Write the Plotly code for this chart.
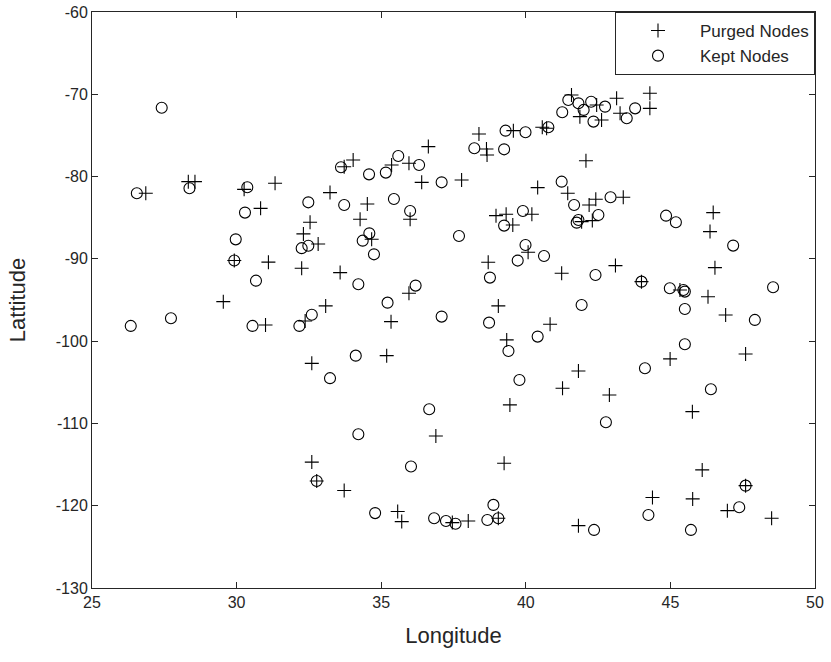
import plotly.graph_objects as go

purged_lon = [26.86, 28.33, 28.56, 30.26, 31.33, 33.23, 30.83, 32.54, 32.31, 32.82,
              29.92, 31.10, 32.25, 29.54, 33.08, 31.00, 32.37, 32.60, 32.60, 32.77,
              33.72, 33.72, 34.03, 35.36, 35.96, 36.63, 36.40, 37.78, 34.52, 34.27,
              36.00, 34.67, 33.58, 35.96, 35.34, 35.19, 36.89, 35.57, 35.71, 37.46,
              38.01, 39.05, 39.25, 39.45, 39.34, 39.05, 40.84, 41.27, 38.70, 40.08,
              41.24, 38.97, 39.32, 39.55, 40.21, 40.41, 41.45, 38.38, 38.64, 38.66,
              39.57, 40.57, 40.72, 41.58, 42.45, 41.87, 42.62, 43.14, 43.26, 44.29,
              44.29, 42.08, 42.42, 42.19, 43.37, 41.93, 42.30, 46.48, 46.37, 43.10,
              46.54, 44.00, 45.33, 46.30, 46.91, 47.60, 44.99, 41.82, 42.89, 45.76,
              46.10, 47.60, 44.38, 45.77, 46.97, 48.50, 41.82]
purged_lat = [-82.03, -80.62, -80.62, -81.55, -80.82, -81.95, -83.86, -85.55, -86.97, -88.19,
              -90.20, -90.40, -91.14, -95.20, -95.72, -98.03, -97.55, -102.70, -114.70, -116.99,
              -118.16, -78.80, -77.98, -78.59, -78.39, -76.36, -80.70, -80.41, -83.33, -85.19,
              -85.19, -87.62, -91.67, -94.18, -97.63, -101.76, -111.52, -120.70, -121.93, -122.05,
              -121.85, -121.52, -114.84, -107.75, -99.85, -95.72, -97.95, -105.73, -90.42, -89.20,
              -91.75, -84.75, -84.58, -85.88, -84.58, -81.34, -82.03, -74.82, -76.65, -77.38,
              -74.42, -74.00, -74.13, -70.09, -71.30, -72.72, -73.12, -70.49, -72.31, -69.88,
              -71.71, -78.07, -82.76, -83.45, -82.52, -85.48, -85.35, -84.38, -86.69, -90.82,
              -91.07, -92.77, -93.78, -94.60, -96.82, -101.56, -102.16, -103.62, -106.54, -108.57,
              -115.65, -117.56, -119.01, -119.17, -120.60, -121.52, -122.42]

kept_lon = [27.41, 26.55, 28.37, 30.37, 32.48, 30.29, 29.97, 32.25, 32.48, 29.92,
            30.67, 26.34, 27.73, 30.55, 32.17, 32.60, 33.23, 32.77, 33.61, 34.58,
            35.16, 35.59, 36.31, 37.09, 33.72, 35.44, 36.00, 34.59, 34.36, 34.75,
            37.69, 34.21, 36.19, 35.22, 37.09, 38.73, 40.41, 39.40, 34.12, 39.78,
            36.66, 34.21, 36.03, 34.79, 36.83, 37.24, 37.57, 38.67, 38.88, 39.05,
            38.22, 39.25, 39.30, 39.99, 40.78, 41.26, 41.47, 41.82, 42.26, 42.74,
            42.34, 43.49, 43.78, 42.00, 41.24, 41.67, 42.93, 41.82, 41.76, 42.51,
            39.90, 39.25, 39.99, 39.72, 40.63, 38.76, 44.85, 45.19, 47.17, 42.41,
            44.00, 44.98, 45.45, 45.50, 48.55, 41.93, 45.50, 47.92, 45.50, 44.12,
            46.40, 42.77, 47.60, 44.24, 47.38, 42.36, 45.71]
kept_lat = [-71.63, -82.03, -81.42, -81.30, -83.13, -84.38, -87.63, -88.70, -88.40, -90.20,
            -92.65, -98.15, -97.22, -98.15, -98.15, -96.80, -104.50, -116.99, -78.87, -79.73,
            -79.52, -77.50, -78.59, -80.70, -83.45, -82.72, -84.18, -86.90, -87.79, -89.45,
            -87.22, -93.09, -93.25, -95.32, -97.02, -97.75, -99.45, -101.19, -101.76, -104.72,
            -108.28, -111.32, -115.24, -120.90, -121.52, -121.85, -122.20, -121.73, -119.90, -121.52,
            -76.56, -76.69, -74.42, -74.62, -74.00, -72.19, -70.69, -71.10, -70.90, -71.50,
            -73.32, -72.92, -71.71, -71.90, -80.62, -83.45, -82.52, -85.27, -85.60, -84.67,
            -84.18, -85.96, -88.31, -90.21, -89.65, -92.28, -84.75, -85.55, -88.39, -91.96,
            -92.77, -93.58, -93.78, -93.98, -93.45, -95.60, -96.09, -97.42, -100.38, -103.30,
            -105.85, -109.86, -117.56, -121.12, -120.19, -122.94, -122.94]

x_ticks = [25, 30, 35, 40, 45, 50]
y_ticks = [-130, -120, -110, -100, -90, -80, -70, -60]

fig = go.Figure()
fig.add_trace(go.Scatter(
    x=purged_lon, y=purged_lat, mode="markers", name="Purged Nodes",
    marker=dict(symbol="cross-thin-open", size=10, color="black",
                line=dict(color="black", width=1.1))))
fig.add_trace(go.Scatter(
    x=kept_lon, y=kept_lat, mode="markers", name="Kept Nodes",
    marker=dict(symbol="circle-open", size=11, color="black",
                line=dict(color="black", width=1.1))))

axis_common = dict(showgrid=False, zeroline=False, showline=True, linecolor="#262626",
                   linewidth=1, mirror="ticks", ticks="inside", ticklen=6, automargin=False,
                   tickcolor="#262626", tickfont=dict(family="Liberation Sans", size=16, color="#262626"))

fig.update_layout(
    width=831, height=662,
    margin=dict(l=92, r=16, t=12, b=74),
    paper_bgcolor="white", plot_bgcolor="white",
    font=dict(family="Liberation Sans", color="#262626"),
    xaxis=dict(range=[25, 50], tickvals=x_ticks, ticktext=[str(v) for v in x_ticks],
               title=dict(text="Longitude", font=dict(size=22, color="#262626"), standoff=17),
               **axis_common),
    yaxis=dict(range=[-130, -60], tickvals=y_ticks, ticktext=[str(v) for v in y_ticks],
               title=dict(text="Lattitude", font=dict(size=22, color="#262626"), standoff=24),
               **axis_common),
    legend=dict(x=1, y=1, xanchor="right", yanchor="top", bgcolor="white",
                bordercolor="#262626", borderwidth=1,
                font=dict(family="Liberation Sans", size=17, color="#262626"),
                itemwidth=74, tracegroupgap=0),
    showlegend=True,
)

fig.write_html("out.html")
